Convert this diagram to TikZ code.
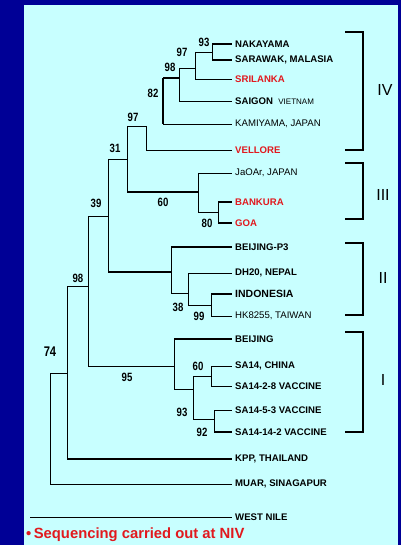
\documentclass[tikz,border=0pt]{standalone}
\usepackage{fontspec}
\setmainfont{Liberation Sans}
\newfontfamily\narfont[FakeStretch=0.8]{Liberation Sans}
\definecolor{bgblue}{RGB}{0,0,150}
\definecolor{panel}{RGB}{200,255,255}
\definecolor{myred}{RGB}{225,25,30}
\tikzset{
  leaf/.style={anchor=west, inner sep=0pt, font=\fontsize{9.6}{10}\selectfont\bfseries},
  leafr/.style={leaf, text=myred},
  leafn/.style={anchor=west, inner sep=0pt, font=\fontsize{9.6}{10}\selectfont},
  boot/.style={inner sep=0pt, font=\narfont\fontsize{12}{12}\selectfont\bfseries},
  br/.style={line width=1.3pt},
  thn/.style={line width=0.9pt},
  thk/.style={line width=2pt},
  clab/.style={inner sep=0pt, font=\fontsize{16}{16}\selectfont}
}
\begin{document}
\begin{tikzpicture}[x=1pt,y=-1pt]
\useasboundingbox (0,0) rectangle (401,545);
\fill[bgblue] (0,0) rectangle (401,545);
\fill[panel] (24,5) rectangle (398,545);

% leaves
\node[leaf]  (nak)  at (235,44)  {NAKAYAMA};
\node[leaf]  (sar)  at (235,60)  {SARAWAK, MALASIA};
\node[leafr] (sri)  at (235,79)  {SRILANKA};
\node[leaf]  (sai)  at (235,101) {SAIGON\ \ {\mdseries\fontsize{8}{9}\selectfont VIETNAM}};
\node[leafn] (kam)  at (235,124) {KAMIYAMA, JAPAN};
\node[leafr] (vel)  at (235,150) {VELLORE};
\node[leafn] (jao)  at (235,173) {JaOAr, JAPAN};
\node[leafr] (ban)  at (235,202) {BANKURA};
\node[leafr] (goa)  at (235,223) {GOA};
\node[leaf]  (bp3)  at (235,247) {BEIJING-P3};
\node[leaf]  (dh)   at (235,273) {DH20, NEPAL};
\node[leaf]  (ind)  at (235,294) {\fontsize{10.5}{11}\selectfont INDONESIA};
\node[leafn] (hk)   at (235,316) {HK8255, TAIWAN};
\node[leaf]  (bei)  at (235,339) {BEIJING};
\node[leaf]  (sa14) at (235,366) {SA14, CHINA};
\node[leaf]  (sa28) at (235,386) {SA14-2-8 VACCINE};
\node[leaf]  (sa53) at (235,410) {SA14-5-3 VACCINE};
\node[leaf]  (sa142) at (235,432) {SA14-14-2 VACCINE};
\node[leaf]  (kpp)  at (235,459) {KPP, THAILAND};
\node[leaf]  (muar) at (235,484) {MUAR, SINAGAPUR};
\node[leaf]  (wn)   at (235,517) {WEST NILE};

% internal node connection points
\coordinate (A) at (212,52);
\coordinate (B) at (195,68);
\coordinate (C) at (179,78);
\coordinate (D) at (163,78);
\coordinate (E) at (146,126);
\coordinate (F) at (127,159);
\coordinate (G) at (198,192);
\coordinate (H) at (218,212);
\coordinate (I) at (108,216);
\coordinate (J) at (171,272);
\coordinate (K) at (188,293);
\coordinate (L) at (211,305);
\coordinate (M) at (88,286);
\coordinate (N) at (174,366);
\coordinate (Q) at (193,389);
\coordinate (R) at (211,376);
\coordinate (S) at (214,419);
\coordinate (O) at (67,373);
\coordinate (P) at (50,373);
\coordinate (W) at (30,517);

% A
\draw[thn] (A|-nak) -- (A|-sar);
\draw[thk] (A|-nak) -- ([xshift=-3pt]nak.west);
\draw[thk] (A|-sar) -- ([xshift=-3pt]sar.west);
% B
\draw[thn] (B|-A) -- (B|-sri);
\draw[thn] (B|-A) -- (A);
\draw[thn] (B|-sri) -- ([xshift=-3pt]sri.west);
% C
\draw[thn] (C|-B) -- (C|-sai);
\draw[thn] (C|-B) -- (B);
\draw[thn] (C|-sai) -- ([xshift=-3pt]sai.west);
% D
\draw[thk] (D) -- (C);
\draw[thk] (D) -- (D|-kam);
\draw[thn] (D|-kam) -- ([xshift=-3pt]kam.west);
% E
\draw[thn] (E) -- (E|-vel);
\draw[thn] (E|-vel) -- ([xshift=-3pt]vel.west);
% F
\draw[thn] (F|-E) -- (F|-G);
\draw[thn] (F|-E) -- (E);
\draw[thk] (F|-G) -- (G);
% G
\draw[thn] (G|-jao) -- (G|-H);
\draw[thn] (G|-jao) -- ([xshift=-3pt]jao.west);
\draw[thn] (G|-H) -- (H);
% H
\draw[thn] (H|-ban) -- (H|-goa);
\draw[thk] (H|-ban) -- ([xshift=-3pt]ban.west);
\draw[thk] (H|-goa) -- ([xshift=-3pt]goa.west);
% I
\draw[thn] (I|-F) -- (I|-J);
\draw[thn] (I|-F) -- (F);
\draw[thk] (I|-J) -- (J);
% J
\draw[thn] (J|-bp3) -- (J|-K);
\draw[thk] (J|-bp3) -- ([xshift=-3pt]bp3.west);
\draw[thn] (J|-K) -- (K);
% K
\draw[thn] (K|-dh) -- (K|-L);
\draw[thn] (K|-dh) -- ([xshift=-3pt]dh.west);
\draw[thn] (K|-L) -- (L);
% L
\draw[thn] (L|-ind) -- (L|-hk);
\draw[thk] (L|-ind) -- ([xshift=-3pt]ind.west);
\draw[thn] (L|-hk) -- ([xshift=-3pt]hk.west);
% M
\draw[thn] (M|-I) -- (M|-N);
\draw[thn] (M|-I) -- (I);
\draw[thn] (M|-N) -- (N);
% N
\draw[thn] (N|-bei) -- (N|-Q);
\draw[thk] (N|-bei) -- ([xshift=-3pt]bei.west);
\draw[thn] (N|-Q) -- (Q);
% Q
\draw[thn] (Q|-R) -- (Q|-S);
\draw[thn] (Q|-R) -- (R);
\draw[thn] (Q|-S) -- (S);
% R
\draw[thn] (R|-sa14) -- (R|-sa28);
\draw[thn] (R|-sa14) -- ([xshift=-3pt]sa14.west);
\draw[thn] (R|-sa28) -- ([xshift=-3pt]sa28.west);
% S
\draw[thn] (S|-sa53) -- (S|-sa142);
\draw[thn] (S|-sa53) -- ([xshift=-3pt]sa53.west);
\draw[thk] (S|-sa142) -- ([xshift=-3pt]sa142.west);
% O
\draw[thn] (O|-M) -- (O|-kpp);
\draw[thn] (O|-M) -- (M);
\draw[thk] (O|-kpp) -- ([xshift=-3pt]kpp.west);
% P
\draw[thn] (P) -- (P|-muar);
\draw[thn] (P) -- (O);
\draw[thn] (P|-muar) -- ([xshift=-3pt]muar.west);
% West Nile
\draw[thn] (W) -- ([xshift=-3pt]wn.west);

% bootstrap values
\node[boot] (bA) at (204,42)  {93};
\node[boot] (bB) at (182,52)  {97};
\node[boot] (bC) at (170,67)  {98};
\node[boot] (bD) at (153,93)  {82};
\node[boot] (bE) at (133,117) {97};
\node[boot] (bF) at (115,148) {31};
\node[boot] (bG) at (163,202) {60};
\node[boot] (bH) at (207,223) {80};
\node[boot] (bI) at (96,203)  {39};
\node[boot] (bK) at (178,307) {38};
\node[boot] (bL) at (199,316) {99};
\node[boot] (bM) at (78,278)  {98};
\node[boot] (bN) at (127,377) {95};
\node[boot] (bR) at (198,366) {60};
\node[boot] (bQ) at (182,412) {93};
\node[boot] (bS) at (202,432) {92};
\node[boot, font=\narfont\fontsize{14}{14}\selectfont\bfseries] (bP) at (50,352) {74};

% clade brackets
\coordinate (c4t) at (345,32);  \coordinate (c4b) at (345,150);
\coordinate (c3t) at (345,163); \coordinate (c3b) at (345,219);
\coordinate (c2t) at (345,243); \coordinate (c2b) at (345,315);
\coordinate (c1t) at (345,332); \coordinate (c1b) at (345,432);
\draw[br] (c4t) -- ++(18,0) |- (c4b);
\draw[br] (c3t) -- ++(18,0) |- (c3b);
\draw[br] (c2t) -- ++(18,0) |- (c2b);
\draw[br] (c1t) -- ++(18,0) |- (c1b);
\draw[thk] (c4t) -- ++(18,0); \draw[thk] (c4b) -- ++(18,0);
\draw[thk] (c3t) -- ++(18,0); \draw[thk] (c3b) -- ++(18,0);
\draw[thk] (c2t) -- ++(18,0); \draw[thk] (c2b) -- ++(18,0);
\draw[thk] (c1t) -- ++(18,0); \draw[thk] (c1b) -- ++(18,0);
\node[clab] (l4) at (385,90)  {IV};
\node[clab] (l3) at (383,195) {III};
\node[clab] (l2) at (383,278) {II};
\node[clab] (l1) at (383,380) {I};

% footnote
\node[anchor=west, inner sep=0pt, text=myred, font=\fontsize{14.8}{16}\selectfont\bfseries] (note) at (26,535) {\textbullet\,Sequencing carried out at NIV};
\end{tikzpicture}
\end{document}
